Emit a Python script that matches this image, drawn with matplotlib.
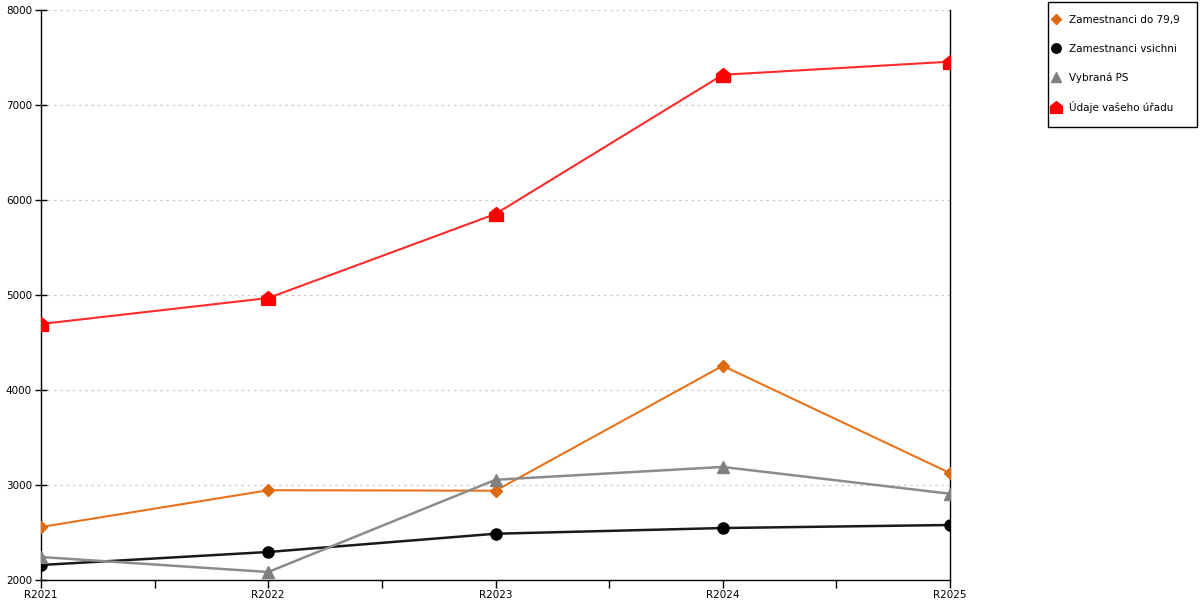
import matplotlib
matplotlib.use("Agg")
import matplotlib.pyplot as plt
from matplotlib.path import Path
from matplotlib.patches import Rectangle
from matplotlib.ticker import FixedLocator

categories = ["R2021", "R2022", "R2023", "R2024", "R2025"]
zam_do = [2558, 2945, 2940, 4255, 3126]
zam_vsichni = [2158, 2295, 2487, 2547, 2579]
vybrana_ps = [2242, 2084, 3055, 3190, 2908]
udaje_uradu = [4695, 4968, 5853, 7318, 7456]
y_ticks = [2000, 3000, 4000, 5000, 6000, 7000, 8000]

house = Path([(-1, -1), (1, -1), (1, 0.2), (0, 1), (-1, 0.2), (-1, -1)],
             [Path.MOVETO, Path.LINETO, Path.LINETO, Path.LINETO, Path.LINETO, Path.CLOSEPOLY])

plt.rcParams['font.family'] = ['DejaVu Sans']
fig = plt.figure(figsize=(12, 6), dpi=100)
ax = fig.add_axes([41/1200, 20/600, (950-41)/1200, 570/600])

x = list(range(len(categories)))
ax.plot(x, zam_do, color="#E8731A", lw=1.5, marker="D", ms=6, mfc="#DD6A10", mec="#DD6A10", label="Zamestnanci do 79,9", zorder=3)
ax.plot(x, zam_vsichni, color="#1a1a1a", lw=1.8, marker="o", ms=8, mfc="black", mec="black", label="Zamestnanci vsichni", zorder=3)
ax.plot(x, vybrana_ps, color="#8c8c8c", lw=1.8, marker="^", ms=9, mfc="#808080", mec="#808080", label="Vybraná PS", zorder=3)
ax.plot(x, udaje_uradu, color="#FF2A2A", lw=1.5, marker=house, ms=10, mfc="#FF0000", mec="#FF0000", label="Údaje vašeho úřadu", zorder=3)

ax.set_xlim(0, len(categories)-1)
ax.set_ylim(2000, 8000)
ax.set_xticks(x)
ax.set_xticklabels(categories)
ax.xaxis.set_minor_locator(FixedLocator([i + 0.5 for i in range(len(categories)-1)]))
ax.set_yticks(y_ticks)
ax.yaxis.grid(True, linestyle=(0, (2, 3)), color="#cccccc", lw=0.9)
ax.set_axisbelow(True)
ax.spines['top'].set_visible(False)
for s in ['left', 'bottom', 'right']:
    ax.spines[s].set_color('black')
    ax.spines[s].set_linewidth(1)
ax.tick_params(axis='x', which='both', direction='out', length=6, width=1, labelsize=7.5, pad=1)
ax.tick_params(axis='y', direction='inout', length=9, width=1, labelsize=7.5, pad=2)

leg = fig.legend(loc='upper left', bbox_to_anchor=(1052/1200, 1 - 15/600), fontsize=7.5,
                 frameon=False, borderpad=0, borderaxespad=0,
                 labelspacing=1.78, handlelength=0.8, handletextpad=0.8, markerscale=0.85)
for h in leg.legend_handles:
    h.set_linestyle('None')

fig.patches.append(Rectangle((1048/1200, 1 - 127/600), 149/1200, 125/600,
                             transform=fig.transFigure, fill=False, edgecolor='black', lw=1))

fig.savefig("out.png", dpi=100)
